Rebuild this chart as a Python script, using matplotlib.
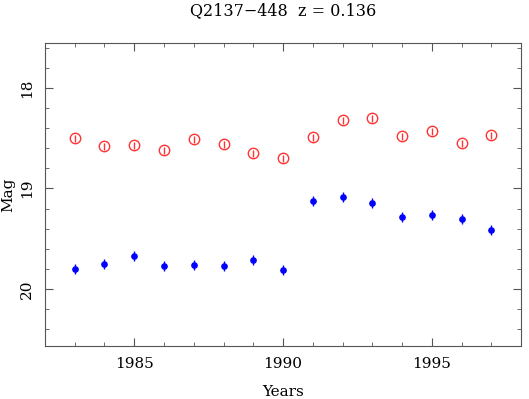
import matplotlib
matplotlib.use('Agg')
import matplotlib.pyplot as plt
from matplotlib.ticker import MultipleLocator

years = [1983, 1984, 1985, 1986, 1987, 1988, 1989, 1990,
         1991, 1992, 1993, 1994, 1995, 1996, 1997]
mag_red = [18.50, 18.58, 18.57, 18.62, 18.51, 18.56, 18.65, 18.70,
           18.49, 18.32, 18.30, 18.48, 18.43, 18.55, 18.47]
err_red = [0.035] * 15
mag_blue = [19.80, 19.75, 19.67, 19.77, 19.76, 19.77, 19.71, 19.81,
            19.12, 19.08, 19.14, 19.28, 19.26, 19.30, 19.41]
err_blue = [0.05] * 15

plt.rcParams['font.family'] = ['DejaVu Serif']

fig = plt.figure(figsize=(5.29, 3.99), dpi=100)
ax = fig.add_axes([0.085, 0.133, 0.9, 0.759])

ax.errorbar(years, mag_red, yerr=err_red, fmt='o', mfc='none', mec='#ff3333',
            ecolor='#ff3333', ms=7.5, mew=1.0, elinewidth=1.0, capsize=0)
ax.errorbar(years, mag_blue, yerr=err_blue, fmt='o', color='blue',
            ms=3.8, elinewidth=1.0, capsize=0)

ax.set_xlim(1982, 1998)
ax.set_ylim(20.57, 17.55)
ax.xaxis.set_major_locator(MultipleLocator(5))
ax.xaxis.set_minor_locator(MultipleLocator(1))
ax.yaxis.set_major_locator(MultipleLocator(1))
ax.yaxis.set_minor_locator(MultipleLocator(0.2))
ax.tick_params(which='both', direction='in', top=True, right=True,
               color='#555555', labelsize=11, pad=8)
ax.tick_params(which='major', length=6)
ax.tick_params(which='minor', length=3)
for lbl in ax.get_yticklabels():
    lbl.set_rotation(90)
    lbl.set_va('center')
for s in ax.spines.values():
    s.set_color('#555555')

ax.set_title('Q2137\u2212448  z = 0.136', fontsize=11.5, pad=20)
ax.set_xlabel('Years', fontsize=11)
ax.set_ylabel('Mag', fontsize=11)
ax.xaxis.set_label_coords(0.5, -0.152)
ax.yaxis.set_label_coords(-0.078, 0.5)
ax.xaxis.label.set_va('center')
ax.yaxis.label.set_va('center')

fig.savefig('out.png', dpi=100)
